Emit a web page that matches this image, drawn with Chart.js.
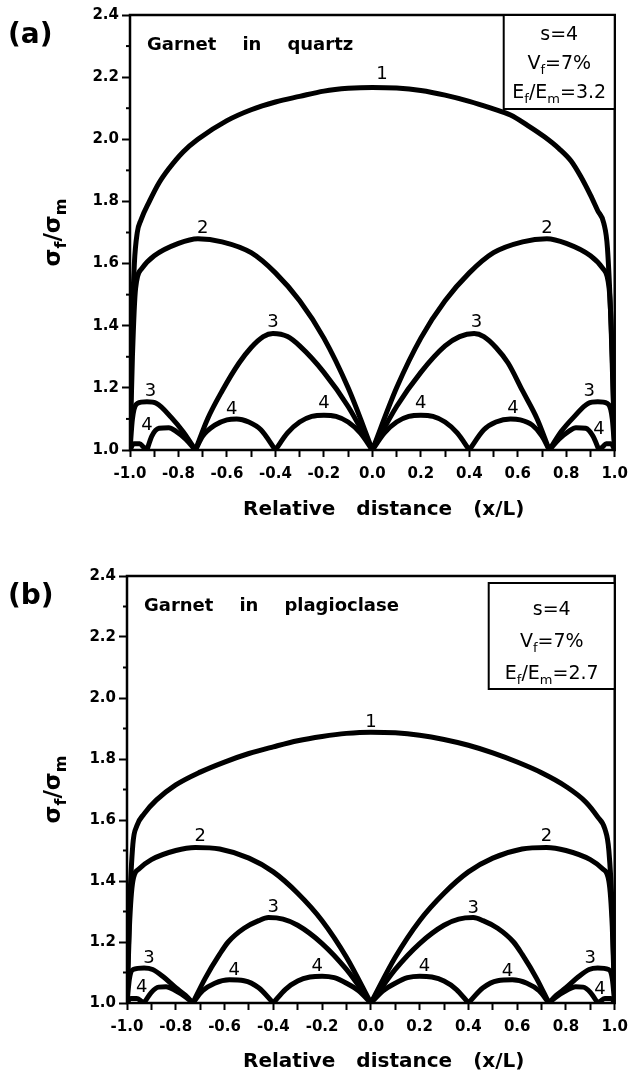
<!DOCTYPE html>
<html><head><meta charset="utf-8">
<script src="https://cdn.jsdelivr.net/npm/chart.js@4.4.0/dist/chart.umd.min.js"></script>
<style>
html,body{margin:0;padding:0;background:#fff;width:636px;height:1076px;overflow:hidden}
canvas{position:absolute;left:0;display:block}
</style></head><body>
<canvas id="ca" width="636" height="536" style="top:0;width:636px;height:536px"></canvas>
<canvas id="cb" width="636" height="540" style="top:536px;width:636px;height:540px"></canvas>
<script>
// ---------- tick labels ----------
const xTickLabels = ['-1.0','-0.8','-0.6','-0.4','-0.2','0.0','0.2','0.4','0.6','0.8','1.0'];
const yTickLabels = ['1.0','1.2','1.4','1.6','1.8','2.0','2.2','2.4'];
const yMinorTicks = [1.1,1.3,1.5,1.7,1.9,2.1,2.3];

// ---------- (a) Garnet in quartz ----------
const quartzCurve1 = [[-1,1.0],[-0.993,1.35],[-0.982,1.6],[-0.97,1.7],[-0.955,1.74],[-0.92,1.8],[-0.88,1.86],[-0.84,1.905],[-0.78,1.96],[-0.72,2.0],[-0.6,2.06],[-0.5,2.095],[-0.4,2.12],[-0.3,2.138],[-0.2,2.155],[-0.1,2.164],[0.0,2.167],[0.1,2.165],[0.2,2.157],[0.3,2.142],[0.4,2.122],[0.49,2.1],[0.57,2.078],[0.64,2.045],[0.71,2.008],[0.77,1.97],[0.82,1.93],[0.86,1.88],[0.9,1.82],[0.93,1.77],[0.955,1.73],[0.97,1.65],[0.985,1.4],[1,1.0]];
const quartzCurve2 = [[-1,1.0],[-0.99,1.3],[-0.977,1.52],[-0.95,1.585],[-0.9,1.625],[-0.8,1.665],[-0.72,1.68],[-0.62,1.67],[-0.5,1.635],[-0.4,1.57],[-0.3,1.48],[-0.2,1.36],[-0.1,1.2],[0,1.0],null,
  [0,1.0],[0.1,1.2],[0.2,1.36],[0.3,1.48],[0.4,1.57],[0.5,1.635],[0.62,1.67],[0.72,1.68],[0.8,1.665],[0.9,1.625],[0.95,1.585],[0.977,1.52],[0.99,1.3],[1,1.0]];
const quartzCurve3 = [[-1,1.0],[-0.99,1.1],[-0.97,1.15],[-0.93,1.155],[-0.89,1.15],[-0.83,1.105],[-0.78,1.058],[-0.73,1.0],null,
  [-0.73,1.0],[-0.68,1.1],[-0.62,1.19],[-0.55,1.28],[-0.5,1.33],[-0.45,1.365],[-0.41,1.375],[-0.35,1.365],[-0.3,1.335],[-0.2,1.25],[-0.1,1.14],[0,1.0],null,
  [0,1.0],[0.1,1.14],[0.2,1.25],[0.3,1.335],[0.36,1.365],[0.42,1.375],[0.46,1.365],[0.51,1.33],[0.56,1.28],[0.62,1.19],[0.68,1.1],[0.73,1.0],null,
  [0.73,1.0],[0.78,1.06],[0.83,1.105],[0.89,1.15],[0.93,1.155],[0.97,1.15],[0.99,1.1],[1,1.0]];
const quartzCurve4 = [[-1,1.0],[-0.985,1.02],[-0.96,1.02],[-0.945,1.01],[-0.93,1.0],null,
  [-0.93,1.0],[-0.91,1.045],[-0.88,1.07],[-0.84,1.072],[-0.81,1.06],[-0.77,1.035],[-0.73,1.0],null,
  [-0.73,1.0],[-0.7,1.045],[-0.65,1.08],[-0.6,1.097],[-0.56,1.1],[-0.51,1.09],[-0.46,1.065],[-0.4,1.0],null,
  [-0.4,1.0],[-0.35,1.055],[-0.3,1.09],[-0.25,1.108],[-0.2,1.112],[-0.15,1.108],[-0.1,1.09],[-0.05,1.055],[0,1.0],null,
  [0,1.0],[0.05,1.055],[0.1,1.09],[0.15,1.108],[0.2,1.112],[0.25,1.108],[0.3,1.09],[0.35,1.055],[0.4,1.0],null,
  [0.4,1.0],[0.46,1.065],[0.51,1.09],[0.57,1.1],[0.61,1.097],[0.66,1.08],[0.7,1.045],[0.73,1.0],null,
  [0.73,1.0],[0.77,1.035],[0.81,1.06],[0.84,1.072],[0.88,1.07],[0.91,1.045],[0.935,1.0],null,
  [0.935,1.0],[0.95,1.01],[0.965,1.02],[0.985,1.02],[1,1.0]];
const quartzLabels = [['1',0.04,2.21],['2',-0.7,1.715],['2',0.72,1.715],['3',-0.41,1.41],['3',0.43,1.41],['3',-0.915,1.188],['3',0.895,1.19],['4',-0.93,1.078],['4',0.935,1.068],['4',-0.58,1.13],['4',-0.2,1.15],['4',0.2,1.15],['4',0.58,1.133]];

// ---------- (b) Garnet in plagioclase ----------
const plagCurve1 = [[-1,1.0],[-0.99,1.3],[-0.976,1.52],[-0.96,1.58],[-0.93,1.62],[-0.88,1.665],[-0.8,1.715],[-0.7,1.757],[-0.6,1.79],[-0.5,1.818],[-0.4,1.84],[-0.3,1.86],[-0.2,1.874],[-0.1,1.884],[0,1.888],[0.1,1.886],[0.2,1.878],[0.3,1.864],[0.4,1.845],[0.5,1.82],[0.6,1.79],[0.7,1.755],[0.8,1.71],[0.88,1.66],[0.93,1.61],[0.96,1.57],[0.976,1.5],[0.99,1.3],[1,1.0]];
const plagCurve2 = [[-1,1.0],[-0.99,1.25],[-0.976,1.4],[-0.95,1.44],[-0.9,1.47],[-0.8,1.5],[-0.72,1.51],[-0.62,1.505],[-0.5,1.475],[-0.4,1.43],[-0.3,1.36],[-0.2,1.27],[-0.1,1.15],[0,1.0],null,
  [0,1.0],[0.1,1.15],[0.2,1.27],[0.3,1.36],[0.4,1.43],[0.5,1.475],[0.62,1.505],[0.72,1.51],[0.8,1.5],[0.9,1.47],[0.95,1.44],[0.976,1.4],[0.99,1.25],[1,1.0]];
const plagCurve3 = [[-1,1.0],[-0.99,1.08],[-0.975,1.11],[-0.93,1.115],[-0.895,1.11],[-0.85,1.085],[-0.8,1.05],[-0.76,1.025],[-0.73,1.0],null,
  [-0.73,1.0],[-0.68,1.08],[-0.62,1.16],[-0.585,1.2],[-0.52,1.245],[-0.46,1.27],[-0.42,1.28],[-0.36,1.275],[-0.3,1.255],[-0.2,1.195],[-0.1,1.11],[0,1.0],null,
  [0,1.0],[0.1,1.11],[0.2,1.195],[0.3,1.255],[0.36,1.275],[0.42,1.28],[0.46,1.27],[0.52,1.245],[0.585,1.2],[0.62,1.16],[0.68,1.08],[0.73,1.0],null,
  [0.73,1.0],[0.76,1.025],[0.8,1.05],[0.85,1.085],[0.895,1.11],[0.93,1.115],[0.975,1.11],[0.99,1.08],[1,1.0]];
const plagCurve4 = [[-1,1.0],[-0.985,1.015],[-0.96,1.015],[-0.94,1.005],[-0.93,1.0],null,
  [-0.93,1.0],[-0.9,1.035],[-0.87,1.052],[-0.84,1.053],[-0.8,1.04],[-0.76,1.02],[-0.73,1.0],null,
  [-0.73,1.0],[-0.69,1.04],[-0.64,1.065],[-0.58,1.076],[-0.52,1.073],[-0.46,1.05],[-0.4,1.0],null,
  [-0.4,1.0],[-0.35,1.045],[-0.3,1.072],[-0.25,1.085],[-0.2,1.088],[-0.15,1.083],[-0.1,1.065],[-0.05,1.04],[0,1.0],null,
  [0,1.0],[0.05,1.04],[0.1,1.065],[0.15,1.083],[0.2,1.088],[0.25,1.085],[0.3,1.072],[0.35,1.045],[0.4,1.0],null,
  [0.4,1.0],[0.46,1.05],[0.52,1.073],[0.58,1.076],[0.64,1.065],[0.69,1.04],[0.73,1.0],null,
  [0.73,1.0],[0.76,1.02],[0.8,1.04],[0.84,1.053],[0.87,1.052],[0.9,1.035],[0.93,1.0],null,
  [0.93,1.0],[0.94,1.005],[0.96,1.015],[0.985,1.015],[1,1.0]];
const plagLabels = [['1',0.0,1.92],['2',-0.7,1.545],['2',0.72,1.545],['3',-0.4,1.315],['3',0.42,1.31],['3',-0.91,1.148],['3',0.9,1.148],['4',-0.94,1.05],['4',0.94,1.045],['4',-0.56,1.108],['4',-0.22,1.12],['4',0.22,1.12],['4',0.56,1.105]];

// ---------- annotation texts ----------
const quartzTitleWords = ['Garnet','in','quartz'];
const plagTitleWords = ['Garnet','in','plagioclase'];
const xTitleWords = ['Relative','distance','(x/L)'];
const quartzBoxLines = [[['s=4',0]],[['V',0],['f',1],['=7%',0]],[['E',0],['f',1],['/E',0],['m',1],['=3.2',0]]];
const plagBoxLines = [[['s=4',0]],[['V',0],['f',1],['=7%',0]],[['E',0],['f',1],['/E',0],['m',1],['=2.7',0]]];
const yTitleParts = [['σ',0],['f',1],['/σ',0],['m',1]];

const FAM = '"DejaVu Sans", "Verdana", sans-serif';

function drawRich(ctx, parts, x, y, align, size, weight) {
  const subSize = Math.round(size * 0.68);
  let w = 0;
  parts.forEach(([t, sub]) => { ctx.font = `${weight} ${sub ? subSize : size}px ${FAM}`; w += ctx.measureText(t).width; });
  let cx = align === 'center' ? x - w / 2 : x;
  ctx.textAlign = 'left'; ctx.textBaseline = 'alphabetic';
  parts.forEach(([t, sub]) => {
    ctx.font = `${weight} ${sub ? subSize : size}px ${FAM}`;
    ctx.fillText(t, cx, sub ? y + size * 0.28 : y);
    cx += ctx.measureText(t).width;
  });
}
function drawWords(ctx, words, x, y, gap, font) {
  ctx.font = font; ctx.textAlign = 'left'; ctx.textBaseline = 'middle';
  let cx = x;
  words.forEach(w => { ctx.fillText(w, cx, y); cx += ctx.measureText(w).width + gap; });
}

function overlay(cfg) {
  return {
    id: 'overlay',
    afterDraw(chart) {
      const ctx = chart.ctx, a = chart.chartArea, xs = chart.scales.x, ys = chart.scales.y;
      ctx.save();
      ctx.fillStyle = '#000'; ctx.strokeStyle = '#000';
      ctx.lineWidth = 2.5;
      ctx.strokeRect(a.left, a.top, a.right - a.left, a.bottom - a.top);
      ctx.lineWidth = 2;
      yMinorTicks.forEach(v => { const py = ys.getPixelForValue(v); ctx.beginPath(); ctx.moveTo(a.left - 4, py); ctx.lineTo(a.left + 1, py); ctx.stroke(); });
      ctx.font = `18px ${FAM}`; ctx.textAlign = 'center'; ctx.textBaseline = 'middle';
      cfg.labels.forEach(([t, x, y]) => ctx.fillText(t, xs.getPixelForValue(x), ys.getPixelForValue(y)));
      const bx = a.right - cfg.boxW, by = a.top + cfg.boxTop;
      ctx.fillStyle = '#fff'; ctx.fillRect(bx, by, cfg.boxW, cfg.boxH); ctx.fillStyle = '#000';
      ctx.lineWidth = 2; ctx.strokeRect(bx, by, cfg.boxW, cfg.boxH);
      cfg.boxLines.forEach((ln, i) => drawRich(ctx, ln, bx + cfg.boxW / 2, by + cfg.boxY0 + i * cfg.boxDy, 'center', 19, 'normal'));
      drawWords(ctx, cfg.titleWords, a.left + 17, a.top + 30, 26, `bold 18px ${FAM}`);
      ctx.font = `bold 28px ${FAM}`; ctx.textAlign = 'left'; ctx.textBaseline = 'middle';
      ctx.fillText(cfg.letter, 8, a.top + 21);
      drawWords(ctx, xTitleWords, 243, cfg.xTitleY, 21, `bold 20px ${FAM}`);
      ctx.save();
      ctx.translate(cfg.yTitleX, (a.top + a.bottom) / 2);
      ctx.rotate(-Math.PI / 2);
      drawRich(ctx, yTitleParts, 0, 8, 'center', 23, 'bold');
      ctx.restore();
      ctx.restore();
    }
  };
}

function makeChart(id, cfg) {
  const datasets = cfg.curves.map(c => ({
    data: c.map(p => p ? { x: p[0], y: p[1] } : { x: null, y: null }),
    borderColor: '#000', borderWidth: 5, pointRadius: 0, fill: false,
    cubicInterpolationMode: 'monotone', spanGaps: false,
    borderCapStyle: 'round', borderJoinStyle: 'round'
  }));
  const tickFont = { family: FAM, size: 15, weight: 'bold' };
  return new Chart(document.getElementById(id), {
    type: 'line',
    data: { datasets },
    options: {
      responsive: false, animation: false, events: [],
      layout: { padding: { left: 0, right: cfg.padRight, top: cfg.padTop, bottom: 0 } },
      plugins: { legend: { display: false }, tooltip: { enabled: false } },
      scales: {
        x: {
          type: 'linear', min: -1, max: 1,
          afterFit: s => { s.height = cfg.xH; },
          border: { display: false },
          grid: { drawOnChartArea: false, drawTicks: true, tickLength: 7, tickWidth: 2, tickColor: '#000' },
          ticks: {
            stepSize: 0.1, autoSkip: false, maxRotation: 0, minRotation: 0, color: '#000', padding: 8, font: tickFont,
            callback: v => { const s = (Math.abs(v) < 1e-9 ? 0 : v).toFixed(1); return xTickLabels.includes(s) ? s : ''; }
          }
        },
        y: {
          type: 'linear', min: 1.0, max: 2.4,
          afterFit: s => { s.width = cfg.yW; },
          border: { display: false },
          grid: { drawOnChartArea: false, drawTicks: true, tickLength: 8, tickWidth: 2, tickColor: '#000' },
          ticks: {
            stepSize: 0.2, color: '#000', padding: 3, font: tickFont,
            callback: v => { const s = v.toFixed(1); return yTickLabels.includes(s) ? s : ''; }
          }
        }
      }
    },
    plugins: [overlay(cfg)]
  });
}

makeChart('ca', {
  curves: [quartzCurve1, quartzCurve2, quartzCurve3, quartzCurve4], labels: quartzLabels,
  padTop: 15, padRight: 12, yW: 130, xH: 86,
  boxW: 111, boxTop: 0, boxH: 94, boxY0: 25, boxDy: 29, boxLines: quartzBoxLines,
  titleWords: quartzTitleWords, letter: '(a)', xTitleY: 510, yTitleX: 52
});
makeChart('cb', {
  curves: [plagCurve1, plagCurve2, plagCurve3, plagCurve4], labels: plagLabels,
  padTop: 40, padRight: 13, yW: 127, xH: 73,
  boxW: 126, boxTop: 7, boxH: 106, boxY0: 32, boxDy: 32, boxLines: plagBoxLines,
  titleWords: plagTitleWords, letter: '(b)', xTitleY: 526, yTitleX: 52
});
</script>
</body></html>
